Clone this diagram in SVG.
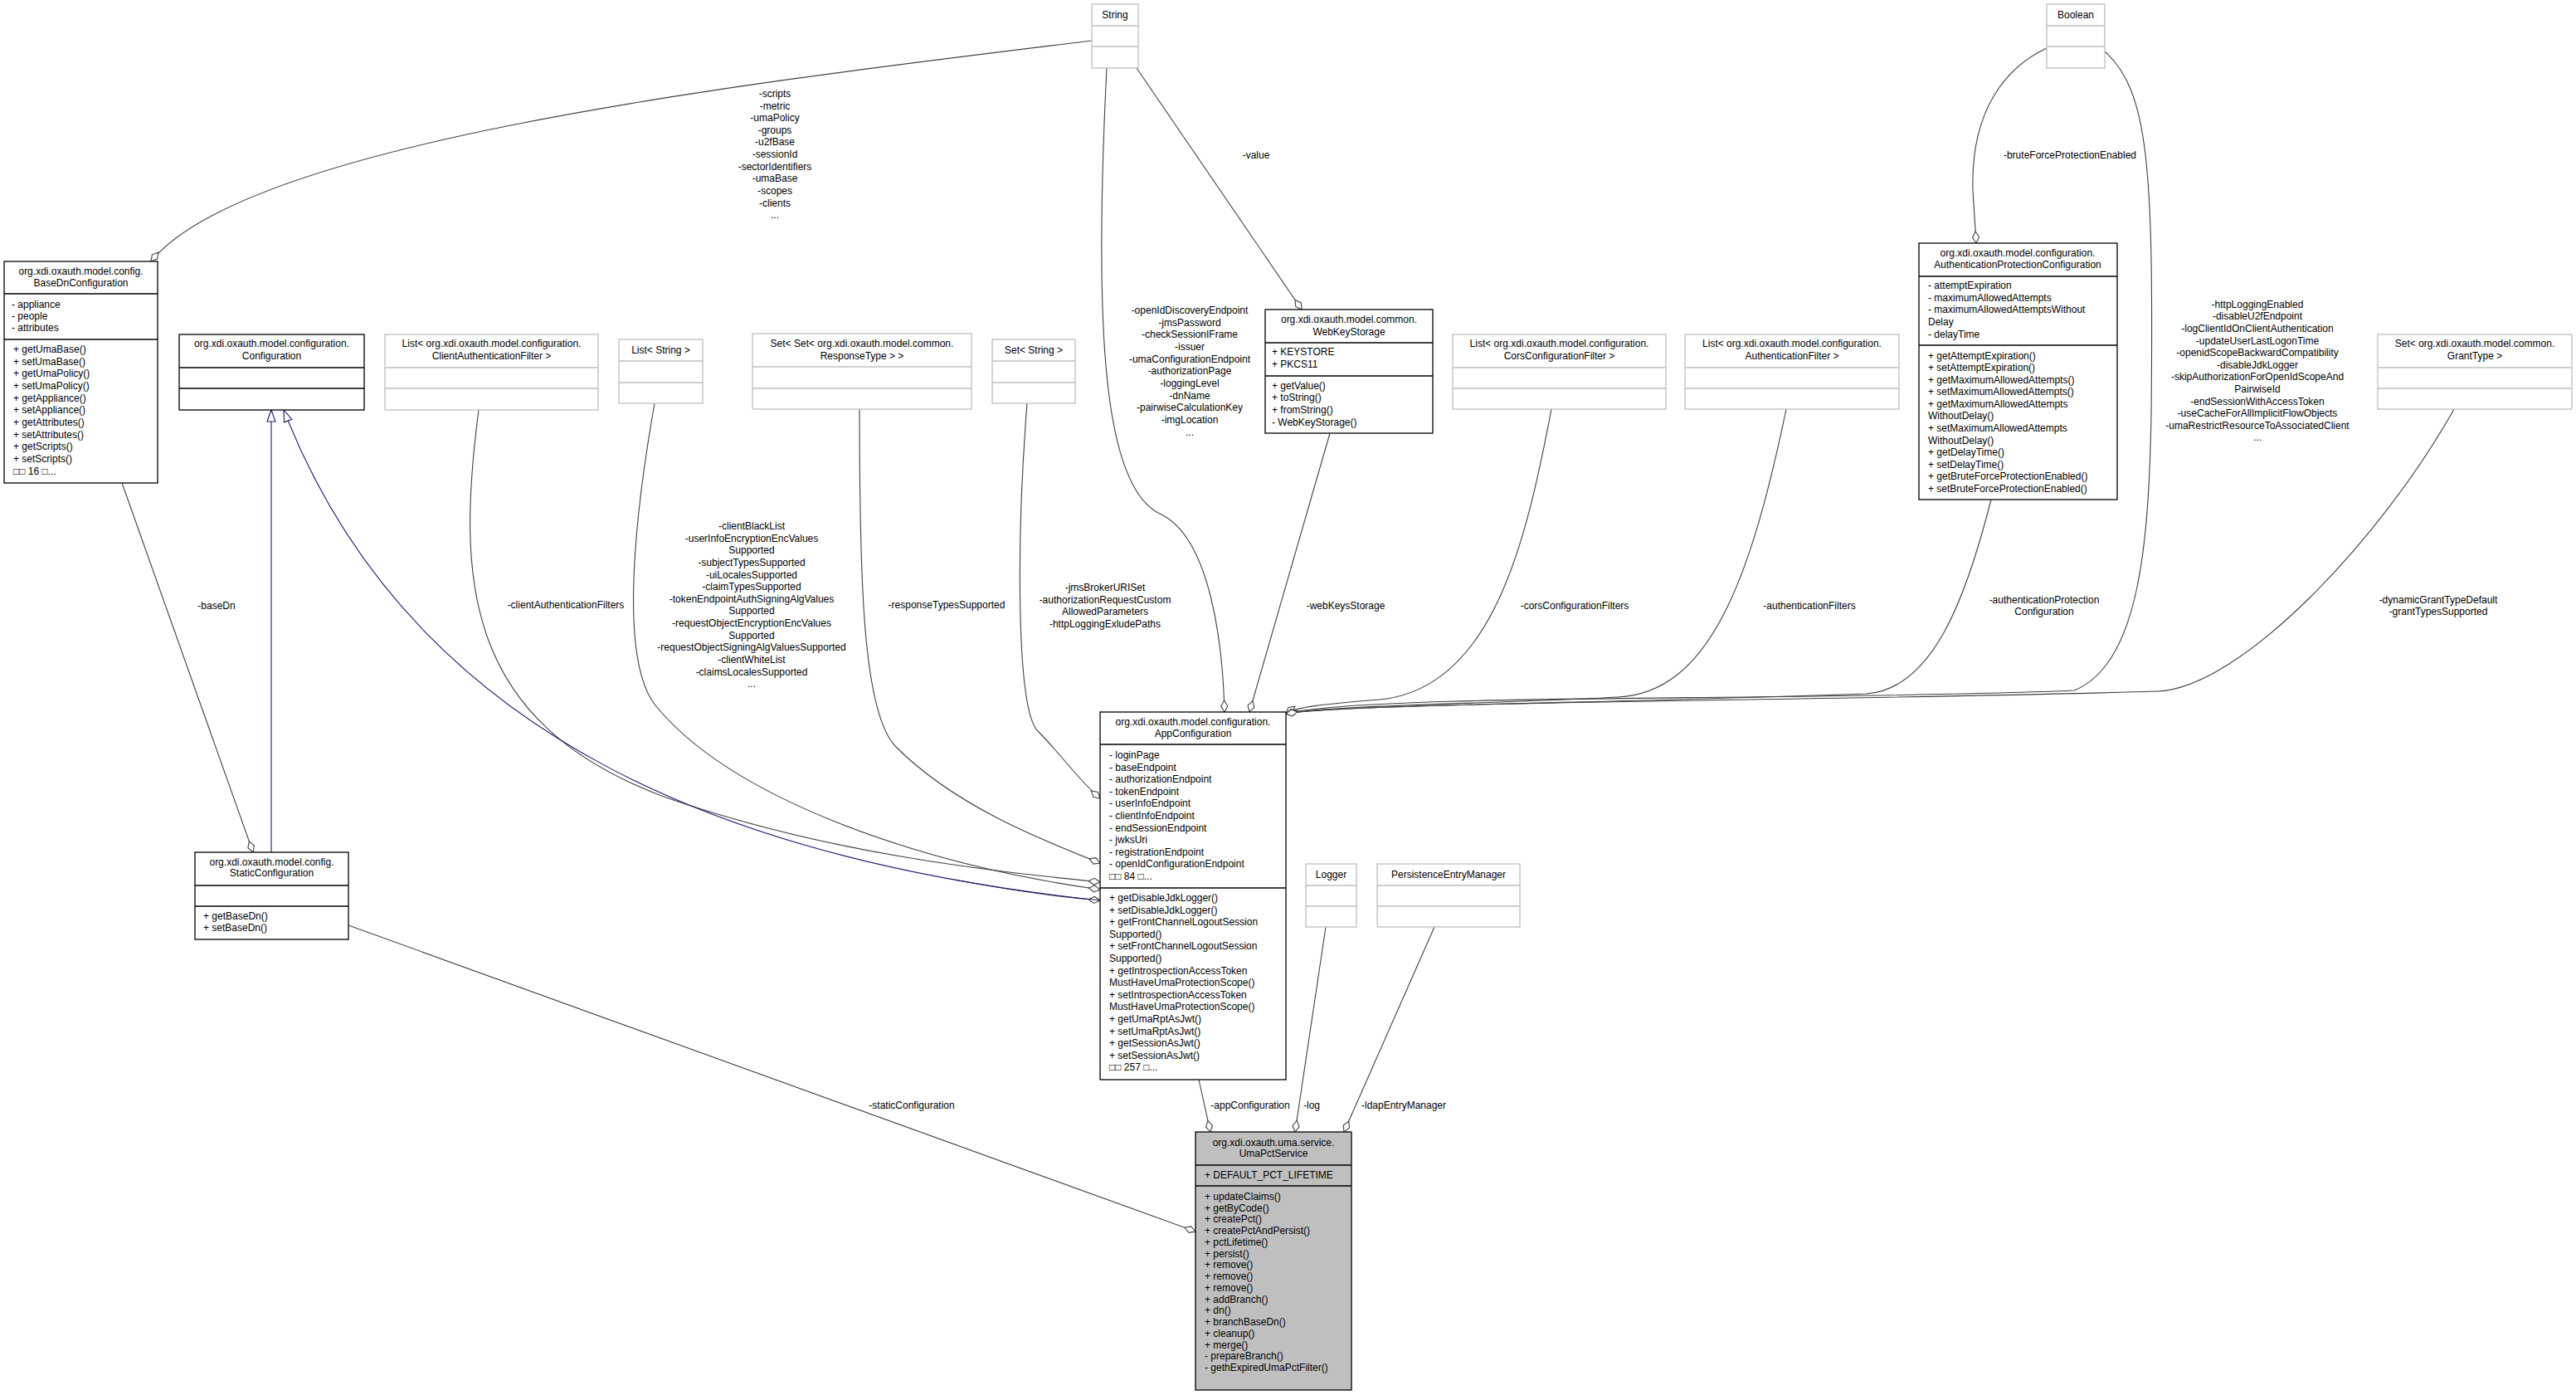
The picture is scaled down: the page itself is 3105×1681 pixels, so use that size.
<svg xmlns="http://www.w3.org/2000/svg" width="3105" height="1681" viewBox="0 0 3105 1681">
<style>
text{font-family:"Liberation Sans",Arial,sans-serif;font-size:12px;fill:#000}
.c{text-anchor:middle}
.k{fill:#fff;stroke:#000;stroke-width:1.3}
.g{fill:#fff;stroke:#bfbfbf;stroke-width:1.3}
.u{fill:#bfbfbf;stroke:#000;stroke-width:1.3}
.dk{stroke:#000;stroke-width:1.3}
.dg{stroke:#bfbfbf;stroke-width:1.3}
.e{fill:none;stroke:#404040;stroke-width:1.1;marker-end:url(#dia)}
.b{fill:none;stroke:#191970;stroke-width:1.1;marker-end:url(#tri)}
</style>
<defs>
<marker id="dia" markerUnits="userSpaceOnUse" markerWidth="16" markerHeight="10" refX="14" refY="5" orient="auto" overflow="visible"><path d="M0,5 L7,1 L14,5 L7,9 Z" fill="#fff" stroke="#404040" stroke-width="1.1"/></marker>
<marker id="tri" markerUnits="userSpaceOnUse" markerWidth="16" markerHeight="12" refX="14" refY="6" orient="auto" overflow="visible"><path d="M0,1 L14,6 L0,11 Z" fill="#fff" stroke="#191970" stroke-width="1.1"/></marker>
</defs>
<g id="connectors">
<path class="e" d="M1316,49 C900,100 300,170 182,315"/>
<path class="e" d="M1370,82 L1569,373"/>
<path class="e" d="M1334,82 C1318,400 1330,590 1400,620 C1460,650 1474,780 1476,858"/>
<path class="e" d="M1603,522 L1506,858"/>
<path class="e" d="M2467,58 C2420,80 2375,130 2378,230 L2382,293"/>
<path class="e" d="M2537,62 C2590,110 2596,200 2593,500 C2590,650 2580,800 2500,832 C2200,845 1650,835 1550,860"/>
<path class="e" d="M1870,493 C1840,650 1800,830 1663,843 C1600,848 1560,852 1550,860"/>
<path class="e" d="M2153,493 C2110,700 2060,835 1950,840 C1800,848 1600,850 1550,860"/>
<path class="e" d="M2400,602 C2370,720 2330,830 2250,836 C1900,848 1600,850 1550,860"/>
<path class="e" d="M2958,493 C2870,650 2700,830 2600,833 C2200,845 1650,845 1550,860"/>
<path class="e" d="M577,494 C550,700 560,870 800,960 C1000,1030 1200,1050 1326,1063"/>
<path class="e" d="M789,486 C760,650 750,800 790,850 C880,960 1100,1040 1326,1072"/>
<path class="e" d="M1036,493 C1036,700 1040,860 1080,900 C1150,970 1250,1010 1326,1040"/>
<path class="e" d="M1238,486 C1225,650 1225,850 1250,880 C1280,910 1300,940 1326,962"/>
<path class="e" d="M1150,1060 C1230,1075 1290,1082 1326,1085"/>
<path class="b" d="M1326,1085 C900,1040 500,900 342,494"/>
<path class="b" d="M327,1027 L327,494"/>
<path class="e" d="M147,582 L305,1027"/>
<path class="e" d="M420,1115 L1441,1484"/>
<path class="e" d="M1445,1301 L1459,1364"/>
<path class="e" d="M1598,1117 L1561,1364"/>
<path class="e" d="M1729,1117 L1620,1364"/>
<g class="c">
<text x="934" y="117">-scripts</text><text x="934" y="132">-metric</text><text x="934" y="146">-umaPolicy</text><text x="934" y="161">-groups</text><text x="934" y="175">-u2fBase</text><text x="934" y="190">-sessionId</text><text x="934" y="205">-sectorIdentifiers</text><text x="934" y="219">-umaBase</text><text x="934" y="234">-scopes</text><text x="934" y="249">-clients</text><text x="934" y="263">...</text>
<text x="1514" y="191">-value</text>
<text x="1434" y="378">-openIdDiscoveryEndpoint</text><text x="1434" y="393">-jmsPassword</text><text x="1434" y="407">-checkSessionIFrame</text><text x="1434" y="422">-issuer</text><text x="1434" y="437">-umaConfigurationEndpoint</text><text x="1434" y="451">-authorizationPage</text><text x="1434" y="466">-loggingLevel</text><text x="1434" y="481">-dnName</text><text x="1434" y="495">-pairwiseCalculationKey</text><text x="1434" y="510">-imgLocation</text><text x="1434" y="525">...</text>
<text x="2495" y="191">-bruteForceProtectionEnabled</text>
<text x="2721" y="371">-httpLoggingEnabled</text><text x="2721" y="385">-disableU2fEndpoint</text><text x="2721" y="400">-logClientIdOnClientAuthentication</text><text x="2721" y="415">-updateUserLastLogonTime</text><text x="2721" y="429">-openidScopeBackwardCompatibility</text><text x="2721" y="444">-disableJdkLogger</text><text x="2721" y="458">-skipAuthorizationForOpenIdScopeAnd</text><text x="2721" y="473">PairwiseId</text><text x="2721" y="488">-endSessionWithAccessToken</text><text x="2721" y="502">-useCacheForAllImplicitFlowObjects</text><text x="2721" y="517">-umaRestrictResourceToAssociatedClient</text><text x="2721" y="531">...</text>
<text x="261" y="734">-baseDn</text>
<text x="682" y="733">-clientAuthenticationFilters</text>
<text x="906" y="638">-clientBlackList</text><text x="906" y="653">-userInfoEncryptionEncValues</text><text x="906" y="667">Supported</text><text x="906" y="682">-subjectTypesSupported</text><text x="906" y="697">-uiLocalesSupported</text><text x="906" y="711">-claimTypesSupported</text><text x="906" y="726">-tokenEndpointAuthSigningAlgValues</text><text x="906" y="740">Supported</text><text x="906" y="755">-requestObjectEncryptionEncValues</text><text x="906" y="770">Supported</text><text x="906" y="784">-requestObjectSigningAlgValuesSupported</text><text x="906" y="799">-clientWhiteList</text><text x="906" y="814">-claimsLocalesSupported</text><text x="906" y="828">...</text>
<text x="1141" y="733">-responseTypesSupported</text>
<text x="1332" y="712">-jmsBrokerURISet</text><text x="1332" y="727">-authorizationRequestCustom</text><text x="1332" y="741">AllowedParameters</text><text x="1332" y="756">-httpLoggingExludePaths</text>
<text x="1622" y="734">-webKeysStorage</text>
<text x="1898" y="734">-corsConfigurationFilters</text>
<text x="2181" y="734">-authenticationFilters</text>
<text x="2464" y="727">-authenticationProtection</text><text x="2464" y="741">Configuration</text>
<text x="2939" y="727">-dynamicGrantTypeDefault</text><text x="2939" y="741">-grantTypesSupported</text>
<text x="1099" y="1336">-staticConfiguration</text>
<text x="1507" y="1336">-appConfiguration</text>
<text x="1581" y="1336">-log</text>
<text x="1692" y="1336">-ldapEntryManager</text>
</g>
</g>
<g id="String"><rect class="g" x="1316" y="5" width="56" height="77"/><line class="dg" x1="1316" y1="31" x2="1372" y2="31"/><line class="dg" x1="1316" y1="56" x2="1372" y2="56"/><text class="c" x="1344" y="22">String</text></g>
<g id="Boolean"><rect class="g" x="2467" y="5" width="70" height="77"/><line class="dg" x1="2467" y1="31" x2="2537" y2="31"/><line class="dg" x1="2467" y1="56" x2="2537" y2="56"/><text class="c" x="2502" y="22">Boolean</text></g>
<g id="BaseDnConfiguration"><rect class="k" x="5" y="315" width="185" height="267"/><line class="dk" x1="5" y1="354" x2="190" y2="354"/><line class="dk" x1="5" y1="409" x2="190" y2="409"/>
<text class="c" x="97.5" y="331">org.xdi.oxauth.model.config.</text><text class="c" x="97.5" y="345">BaseDnConfiguration</text>
<text x="14" y="371">- appliance</text><text x="14" y="385">- people</text><text x="14" y="399">- attributes</text>
<text x="16" y="425">+ getUmaBase()</text><text x="16" y="440">+ setUmaBase()</text><text x="16" y="454">+ getUmaPolicy()</text><text x="16" y="469">+ setUmaPolicy()</text><text x="16" y="484">+ getAppliance()</text><text x="16" y="498">+ setAppliance()</text><text x="16" y="513">+ getAttributes()</text><text x="16" y="528">+ setAttributes()</text><text x="16" y="542">+ getScripts()</text><text x="16" y="557">+ setScripts()</text><text x="16" y="572">□□ 16 □...</text></g>
<g id="Configuration"><rect class="k" x="216" y="403" width="223" height="91"/><line class="dk" x1="216" y1="443" x2="439" y2="443"/><line class="dk" x1="216" y1="468" x2="439" y2="468"/><text class="c" x="327.5" y="418">org.xdi.oxauth.model.configuration.</text><text class="c" x="327.5" y="433">Configuration</text></g>
<g id="ClientAuthFilterList"><rect class="g" x="464" y="403" width="257" height="91"/><line class="dg" x1="464" y1="443" x2="721" y2="443"/><line class="dg" x1="464" y1="468" x2="721" y2="468"/><text class="c" x="592.5" y="418">List&lt; org.xdi.oxauth.model.configuration.</text><text class="c" x="592.5" y="433">ClientAuthenticationFilter &gt;</text></g>
<g id="ListString"><rect class="g" x="746" y="409" width="101" height="77"/><line class="dg" x1="746" y1="435" x2="847" y2="435"/><line class="dg" x1="746" y1="461" x2="847" y2="461"/><text class="c" x="796.5" y="426">List&lt; String &gt;</text></g>
<g id="SetSetResponseType"><rect class="g" x="907" y="402" width="264" height="91"/><line class="dg" x1="907" y1="442" x2="1171" y2="442"/><line class="dg" x1="907" y1="468" x2="1171" y2="468"/><text class="c" x="1039" y="418">Set&lt; Set&lt; org.xdi.oxauth.model.common.</text><text class="c" x="1039" y="433">ResponseType &gt; &gt;</text></g>
<g id="SetString"><rect class="g" x="1196" y="409" width="100" height="77"/><line class="dg" x1="1196" y1="435" x2="1296" y2="435"/><line class="dg" x1="1196" y1="461" x2="1296" y2="461"/><text class="c" x="1246" y="426">Set&lt; String &gt;</text></g>
<g id="WebKeyStorage"><rect class="k" x="1525" y="373" width="202" height="149"/><line class="dk" x1="1525" y1="413" x2="1727" y2="413"/><line class="dk" x1="1525" y1="453" x2="1727" y2="453"/>
<text class="c" x="1626" y="389">org.xdi.oxauth.model.common.</text><text class="c" x="1626" y="404">WebKeyStorage</text>
<text x="1533" y="428">+ KEYSTORE</text><text x="1533" y="443">+ PKCS11</text>
<text x="1533" y="469">+ getValue()</text><text x="1533" y="483">+ toString()</text><text x="1533" y="498">+ fromString()</text><text x="1533" y="513">- WebKeyStorage()</text></g>
<g id="CorsFilterList"><rect class="g" x="1751" y="403" width="257" height="90"/><line class="dg" x1="1751" y1="443" x2="2008" y2="443"/><line class="dg" x1="1751" y1="468" x2="2008" y2="468"/><text class="c" x="1879.5" y="418">List&lt; org.xdi.oxauth.model.configuration.</text><text class="c" x="1879.5" y="433">CorsConfigurationFilter &gt;</text></g>
<g id="AuthFilterList"><rect class="g" x="2031" y="403" width="258" height="90"/><line class="dg" x1="2031" y1="443" x2="2289" y2="443"/><line class="dg" x1="2031" y1="468" x2="2289" y2="468"/><text class="c" x="2160" y="418">List&lt; org.xdi.oxauth.model.configuration.</text><text class="c" x="2160" y="433">AuthenticationFilter &gt;</text></g>
<g id="AuthenticationProtectionConfiguration"><rect class="k" x="2313" y="293" width="239" height="309"/><line class="dk" x1="2313" y1="333" x2="2552" y2="333"/><line class="dk" x1="2313" y1="416" x2="2552" y2="416"/>
<text class="c" x="2432" y="309">org.xdi.oxauth.model.configuration.</text><text class="c" x="2432" y="323">AuthenticationProtectionConfiguration</text>
<text x="2324" y="348">- attemptExpiration</text><text x="2324" y="363">- maximumAllowedAttempts</text><text x="2324" y="377">- maximumAllowedAttemptsWithout</text><text x="2324" y="392">Delay</text><text x="2324" y="407">- delayTime</text>
<text x="2324" y="433">+ getAttemptExpiration()</text><text x="2324" y="447">+ setAttemptExpiration()</text><text x="2324" y="462">+ getMaximumAllowedAttempts()</text><text x="2324" y="476">+ setMaximumAllowedAttempts()</text><text x="2324" y="491">+ getMaximumAllowedAttempts</text><text x="2324" y="505">WithoutDelay()</text><text x="2324" y="520">+ setMaximumAllowedAttempts</text><text x="2324" y="535">WithoutDelay()</text><text x="2324" y="549">+ getDelayTime()</text><text x="2324" y="564">+ setDelayTime()</text><text x="2324" y="578">+ getBruteForceProtectionEnabled()</text><text x="2324" y="593">+ setBruteForceProtectionEnabled()</text></g>
<g id="GrantTypeSet"><rect class="g" x="2866" y="403" width="234" height="90"/><line class="dg" x1="2866" y1="443" x2="3100" y2="443"/><line class="dg" x1="2866" y1="468" x2="3100" y2="468"/><text class="c" x="2983" y="418">Set&lt; org.xdi.oxauth.model.common.</text><text class="c" x="2983" y="433">GrantType &gt;</text></g>
<g id="AppConfiguration"><rect class="k" x="1326" y="858" width="224" height="443"/><line class="dk" x1="1326" y1="897" x2="1550" y2="897"/><line class="dk" x1="1326" y1="1070" x2="1550" y2="1070"/>
<text class="c" x="1438" y="874">org.xdi.oxauth.model.configuration.</text><text class="c" x="1438" y="888">AppConfiguration</text>
<text x="1337" y="914">- loginPage</text><text x="1337" y="929">- baseEndpoint</text><text x="1337" y="943">- authorizationEndpoint</text><text x="1337" y="958">- tokenEndpoint</text><text x="1337" y="972">- userInfoEndpoint</text><text x="1337" y="987">- clientInfoEndpoint</text><text x="1337" y="1002">- endSessionEndpoint</text><text x="1337" y="1016">- jwksUri</text><text x="1337" y="1031">- registrationEndpoint</text><text x="1337" y="1045">- openIdConfigurationEndpoint</text><text x="1337" y="1060">□□ 84 □...</text>
<text x="1337" y="1086">+ getDisableJdkLogger()</text><text x="1337" y="1101">+ setDisableJdkLogger()</text><text x="1337" y="1115">+ getFrontChannelLogoutSession</text><text x="1337" y="1130">Supported()</text><text x="1337" y="1144">+ setFrontChannelLogoutSession</text><text x="1337" y="1159">Supported()</text><text x="1337" y="1174">+ getIntrospectionAccessToken</text><text x="1337" y="1188">MustHaveUmaProtectionScope()</text><text x="1337" y="1203">+ setIntrospectionAccessToken</text><text x="1337" y="1217">MustHaveUmaProtectionScope()</text><text x="1337" y="1232">+ getUmaRptAsJwt()</text><text x="1337" y="1247">+ setUmaRptAsJwt()</text><text x="1337" y="1261">+ getSessionAsJwt()</text><text x="1337" y="1276">+ setSessionAsJwt()</text><text x="1337" y="1290">□□ 257 □...</text></g>
<g id="Logger"><rect class="g" x="1574" y="1041" width="61" height="76"/><line class="dg" x1="1574" y1="1067" x2="1635" y2="1067"/><line class="dg" x1="1574" y1="1092" x2="1635" y2="1092"/><text class="c" x="1604.5" y="1058">Logger</text></g>
<g id="PersistenceEntryManager"><rect class="g" x="1660" y="1041" width="172" height="76"/><line class="dg" x1="1660" y1="1067" x2="1832" y2="1067"/><line class="dg" x1="1660" y1="1092" x2="1832" y2="1092"/><text class="c" x="1746" y="1058">PersistenceEntryManager</text></g>
<g id="StaticConfiguration"><rect class="k" x="235" y="1027" width="185" height="105"/><line class="dk" x1="235" y1="1067" x2="420" y2="1067"/><line class="dk" x1="235" y1="1092" x2="420" y2="1092"/>
<text class="c" x="327.5" y="1043">org.xdi.oxauth.model.config.</text><text class="c" x="327.5" y="1056">StaticConfiguration</text>
<text x="245" y="1108">+ getBaseDn()</text><text x="245" y="1122">+ setBaseDn()</text></g>
<g id="UmaPctService"><rect class="u" x="1441" y="1364" width="188" height="311"/><line class="dk" x1="1441" y1="1404" x2="1629" y2="1404"/><line class="dk" x1="1441" y1="1429" x2="1629" y2="1429"/>
<text class="c" x="1535" y="1381">org.xdi.oxauth.uma.service.</text><text class="c" x="1535" y="1394">UmaPctService</text>
<text x="1452" y="1420">+ DEFAULT_PCT_LIFETIME</text>
<text x="1452" y="1446">+ updateClaims()</text><text x="1452" y="1460">+ getByCode()</text><text x="1452" y="1473">+ createPct()</text><text x="1452" y="1487">+ createPctAndPersist()</text><text x="1452" y="1501">+ pctLifetime()</text><text x="1452" y="1515">+ persist()</text><text x="1452" y="1528">+ remove()</text><text x="1452" y="1542">+ remove()</text><text x="1452" y="1556">+ remove()</text><text x="1452" y="1570">+ addBranch()</text><text x="1452" y="1583">+ dn()</text><text x="1452" y="1597">+ branchBaseDn()</text><text x="1452" y="1611">+ cleanup()</text><text x="1452" y="1625">+ merge()</text><text x="1452" y="1638">- prepareBranch()</text><text x="1452" y="1652">- gethExpiredUmaPctFilter()</text></g>
</svg>
